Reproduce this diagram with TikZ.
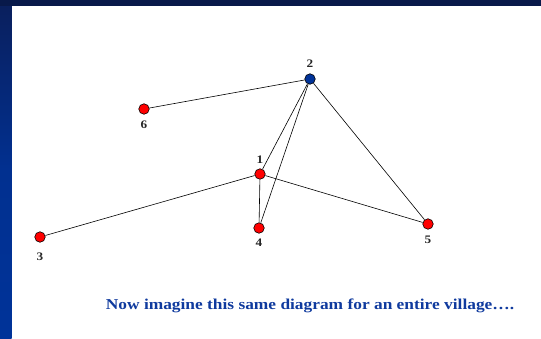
\documentclass[tikz,border=0pt]{standalone}
\usepackage{fontspec}
\setmainfont{Liberation Serif}
\newfontfamily\widefont[FakeStretch=1.15]{Liberation Serif}
\usetikzlibrary{positioning}
\definecolor{navy}{HTML}{0A1F5C}
\definecolor{royal}{HTML}{003399}
\definecolor{caption}{HTML}{0F3A9E}
\definecolor{hut}{HTML}{FF0000}
\definecolor{chief}{HTML}{003399}

\begin{document}
\begin{tikzpicture}[x=1pt,y=-1pt,
  person/.style={circle,draw=black,line width=0.6pt,fill=hut,minimum size=10.5pt,inner sep=0pt},
  head/.style={person,fill=chief},
  lbl/.style={font=\widefont\bfseries\fontsize{11.5}{13}\selectfont,text=black!85},
  tie/.style={line width=0.6pt,draw=black},
  label distance=2.5pt]
% slide frame
\useasboundingbox (0,0) rectangle (541,338);
\fill[white] (0,0) rectangle (541,338);
\shade[top color=navy,bottom color=royal,middle color=royal!85!navy] (0,0) rectangle (11.5,338);
\fill[navy!80!black] (0,0) rectangle (541,6);
% people
\node[head,label={[lbl]above:2}] (p2) at (310,79) {};
\node[person,label={[lbl]below:6}] (p6) at (144,109) {};
\node[person,label={[lbl,label distance=1pt]above:1}] (p1) at (260,174) {};
\node[person,label={[lbl,label distance=6.5pt]below:3}] (p3) at (40,237) {};
\node[person,label={[lbl,label distance=1.5pt]below:4}] (p4) at (259,228) {};
\node[person,label={[lbl]below:5}] (p5) at (428,224) {};
% ties
\draw[tie] (p2)--(p6);
\draw[tie] (p2)--(p1);\draw[tie] (p2)--(p4);\draw[tie] (p2)--(p5);
\draw[tie] (p1)--(p3);\draw[tie] (p1)--(p4);\draw[tie] (p1)--(p5);
% caption
\node[font=\widefont\bfseries\fontsize{15.1}{18}\selectfont,text=caption] (note) at (310,306) {Now imagine this same diagram for an entire village….};
\end{tikzpicture}
\end{document}
